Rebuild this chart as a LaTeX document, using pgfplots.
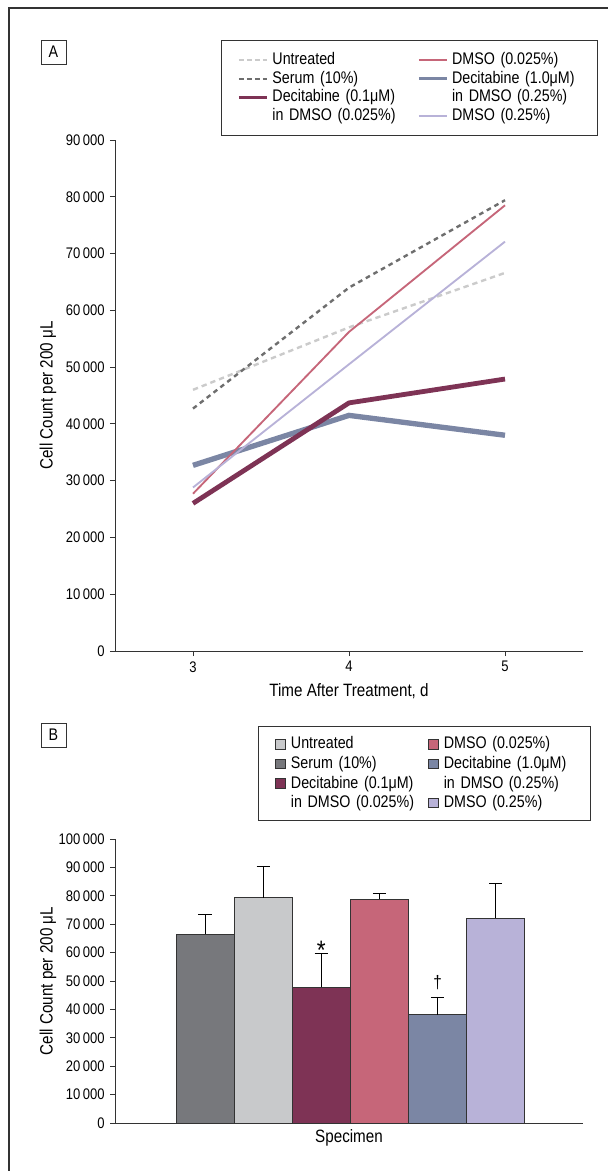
\documentclass[border=0pt]{standalone}
\usepackage{pgfplots}
\pgfplotsset{compat=1.18}
\usepackage{fontspec}
\setmainfont{Liberation Sans}[FakeStretch=0.85]
\definecolor{cUntL}{HTML}{CBCBCB}
\definecolor{cSerL}{HTML}{6E6E6E}
\definecolor{cDark}{HTML}{77787C}
\definecolor{cLight}{HTML}{C8C9CB}
\definecolor{cMaroon}{HTML}{7E3355}
\definecolor{cRose}{HTML}{C66679}
\definecolor{cSlate}{HTML}{7B86A4}
\definecolor{cLav}{HTML}{B8B2D8}
\definecolor{cAx}{HTML}{333333}

\newcommand{\labfont}{\fontsize{13.4pt}{16pt}\selectfont}
\newcommand{\legfont}{\fontsize{12.6pt}{14pt}\selectfont}

\pgfplotsset{
  myaxis/.style={
    scale only axis, anchor=south west,
    axis lines=left, axis line style={-, cAx, line width=0.7pt},
    tick align=outside, major tick length=3.75pt,
    tick style={cAx, line width=0.7pt},
    scaled y ticks=false,
    /pgf/number format/fixed,
    /pgf/number format/1000 sep={\,},
    /pgf/number format/assume math mode=true,
    ylabel={Cell Count per 200 μL},
    label style={font=\labfont},
    ylabel style={at={(axis description cs:-0.143,0.5)}, anchor=center},
    legend columns=2, legend cell align=left,
  },
  legA/.style={legend style={at={(axis description cs:0.2265,1.1957)}, anchor=north west,
      font=\legfont,
      draw=cAx, line width=0.6pt, inner xsep=12pt, inner ysep=7.6pt,
      nodes={inner xsep=0pt, inner ysep=1pt, text height=9.5pt, text depth=2.5pt, text width=97pt, align=left},
      /tikz/every odd column/.append style={column sep=3pt},
      /tikz/every even column/.append style={column sep=12pt}}},
  legB/.style={legend style={at={(axis description cs:0.3056,1.398)}, anchor=north west,
      font=\legfont,
      draw=cAx, line width=0.6pt, inner xsep=12.75pt, inner ysep=5.9pt,
      nodes={inner xsep=0pt, inner ysep=1.25pt, text height=9.7pt, text depth=2.5pt, text width=97pt, align=left},
      /tikz/every odd column/.append style={column sep=3.75pt},
      /tikz/every even column/.append style={column sep=6pt}}},
  barsty/.style={forget plot, ybar, bar width=1, bar shift=0pt, fill=#1, draw=cAx, line width=0.6pt,
    error bars/.cd, y dir=plus, y explicit,
    error bar style={black, line width=0.6pt},
    error mark options={rotate=90, mark size=5pt, line width=0.6pt, black}},
}

\begin{document}
\fontsize{11.5pt}{14pt}\selectfont
\begin{tikzpicture}
\useasboundingbox (0pt,0pt) rectangle (456pt,-878.25pt);
\draw[line width=0.8pt, cAx] (6.75pt,-878.25pt) -- (6.75pt,-6pt) -- (456pt,-6pt);
\node[draw=cAx, line width=0.6pt, minimum width=18.75pt, minimum height=18pt, inner sep=0pt, font=\legfont] at (40.1pt,-39pt) {A};
\node[draw=cAx, line width=0.6pt, minimum width=18.75pt, minimum height=18pt, inner sep=0pt, font=\legfont] at (40.1pt,-551.25pt) {B};

% ---------------- Panel A ----------------
\begin{axis}[myaxis, legA,
  at={(86.25pt,-488.25pt)}, width=351pt, height=383.25pt,
  xmin=2.5, xmax=5.5, ymin=0, ymax=90000,
  xtick={3,4,5}, ytick={0,10000,...,90000},
  xlabel={Time After Treatment, d},
  xlabel style={at={(axis description cs:0.5,-0.078)}, anchor=center},
]
\addlegendimage{legend image code/.code={\draw[cUntL, line width=1.5pt, dash pattern=on 3.5pt off 2.5pt] (0pt,0pt) -- (21pt,0pt);}}
\addlegendentry{Untreated}
\addlegendimage{legend image code/.code={\draw[cRose, line width=1.7pt] (0pt,0pt) -- (21pt,0pt);}}
\addlegendentry{DMSO (0.025\%)}
\addlegendimage{legend image code/.code={\draw[cSerL, line width=1.5pt, dash pattern=on 3.5pt off 2.5pt] (0pt,0pt) -- (21pt,0pt);}}
\addlegendentry{Serum (10\%)}
\addlegendimage{legend image code/.code={\draw[cSlate, line width=1.6pt] (0pt,0pt) -- (21pt,0pt);}}
\addlegendentry{Decitabine (1.0μM)}
\addlegendimage{legend image code/.code={\draw[cMaroon, line width=2.3pt] (0pt,0pt) -- (21pt,0pt);}}
\addlegendentry{Decitabine (0.1μM)}
\addlegendimage{empty legend}
\addlegendentry{in DMSO (0.25\%)}
\addlegendimage{empty legend}
\addlegendentry{in DMSO (0.025\%)}
\addlegendimage{legend image code/.code={\draw[cLav, line width=1.6pt] (0pt,0pt) -- (21pt,0pt);}}
\addlegendentry{DMSO (0.25\%)}

\addplot[forget plot, cSlate, line width=4pt] coordinates {(3,32700) (4,41500) (5,38000)};
\addplot[forget plot, cMaroon, line width=3.6pt] coordinates {(3,26000) (4,43700) (5,47900)};
\addplot[forget plot, cUntL, line width=1.8pt, dash pattern=on 4pt off 3pt] coordinates {(3,46000) (4,57000) (5,66600)};
\addplot[forget plot, cSerL, line width=1.8pt, dash pattern=on 3.5pt off 3pt] coordinates {(3,42700) (4,64000) (5,79400)};
\addplot[forget plot, cRose, line width=1.4pt] coordinates {(3,27700) (4,56200) (5,78500)};
\addplot[forget plot, cLav, line width=1.4pt] coordinates {(3,28800) (4,50500) (5,72100)};
\end{axis}

% ---------------- Panel B ----------------
\begin{axis}[myaxis, legB,
  at={(86.25pt,-842.25pt)}, width=351pt, height=213pt,
  xmin=-0.55, xmax=7.5, ymin=0, ymax=100000,
  xtick=\empty, ytick={0,10000,...,100000},
  xlabel={Specimen},
  xlabel style={at={(axis description cs:0.5,-0.053)}, anchor=center},
]
\addlegendimage{legend image code/.code={\draw[fill=cLight, draw=cAx, line width=0.4pt] (0pt,-3.6pt) rectangle (7.5pt,3.6pt);}}
\addlegendentry{Untreated}
\addlegendimage{legend image code/.code={\draw[fill=cRose, draw=cAx, line width=0.4pt] (0pt,-3.6pt) rectangle (7.5pt,3.6pt);}}
\addlegendentry{DMSO (0.025\%)}
\addlegendimage{legend image code/.code={\draw[fill=cDark, draw=cAx, line width=0.4pt] (0pt,-3.6pt) rectangle (7.5pt,3.6pt);}}
\addlegendentry{Serum (10\%)}
\addlegendimage{legend image code/.code={\draw[fill=cSlate, draw=cAx, line width=0.4pt] (0pt,-3.6pt) rectangle (7.5pt,3.6pt);}}
\addlegendentry{Decitabine (1.0μM)}
\addlegendimage{legend image code/.code={\draw[fill=cMaroon, draw=cAx, line width=0.4pt] (0pt,-3.6pt) rectangle (7.5pt,3.6pt);}}
\addlegendentry{Decitabine (0.1μM)}
\addlegendimage{empty legend}
\addlegendentry{in DMSO (0.25\%)}
\addlegendimage{empty legend}
\addlegendentry{in DMSO (0.025\%)}
\addlegendimage{legend image code/.code={\draw[fill=cLav, draw=cAx, line width=0.4pt] (0pt,-3.6pt) rectangle (7.5pt,3.6pt);}}
\addlegendentry{DMSO (0.25\%)}

\addplot[barsty=cDark] coordinates {(1,66500) +- (0,7000)};
\addplot[barsty=cLight] coordinates {(2,79300) +- (0,11100)};
\addplot[barsty=cMaroon] coordinates {(3,47800) +- (0,12000)};
\addplot[barsty=cRose] coordinates {(4,78800) +- (0,2100)};
\addplot[barsty=cSlate] coordinates {(5,38100) +- (0,6300)};
\addplot[barsty=cLav] coordinates {(6,72100) +- (0,12300)};
\node[anchor=base, inner sep=0pt, font=\fontsize{20pt}{20pt}\selectfont] at (axis cs:3,57600) {*};
\node[anchor=base, inner sep=0pt, font=\fontsize{13.5pt}{14pt}\selectfont] at (axis cs:5,47200) {†};
\end{axis}
\end{tikzpicture}
\end{document}
